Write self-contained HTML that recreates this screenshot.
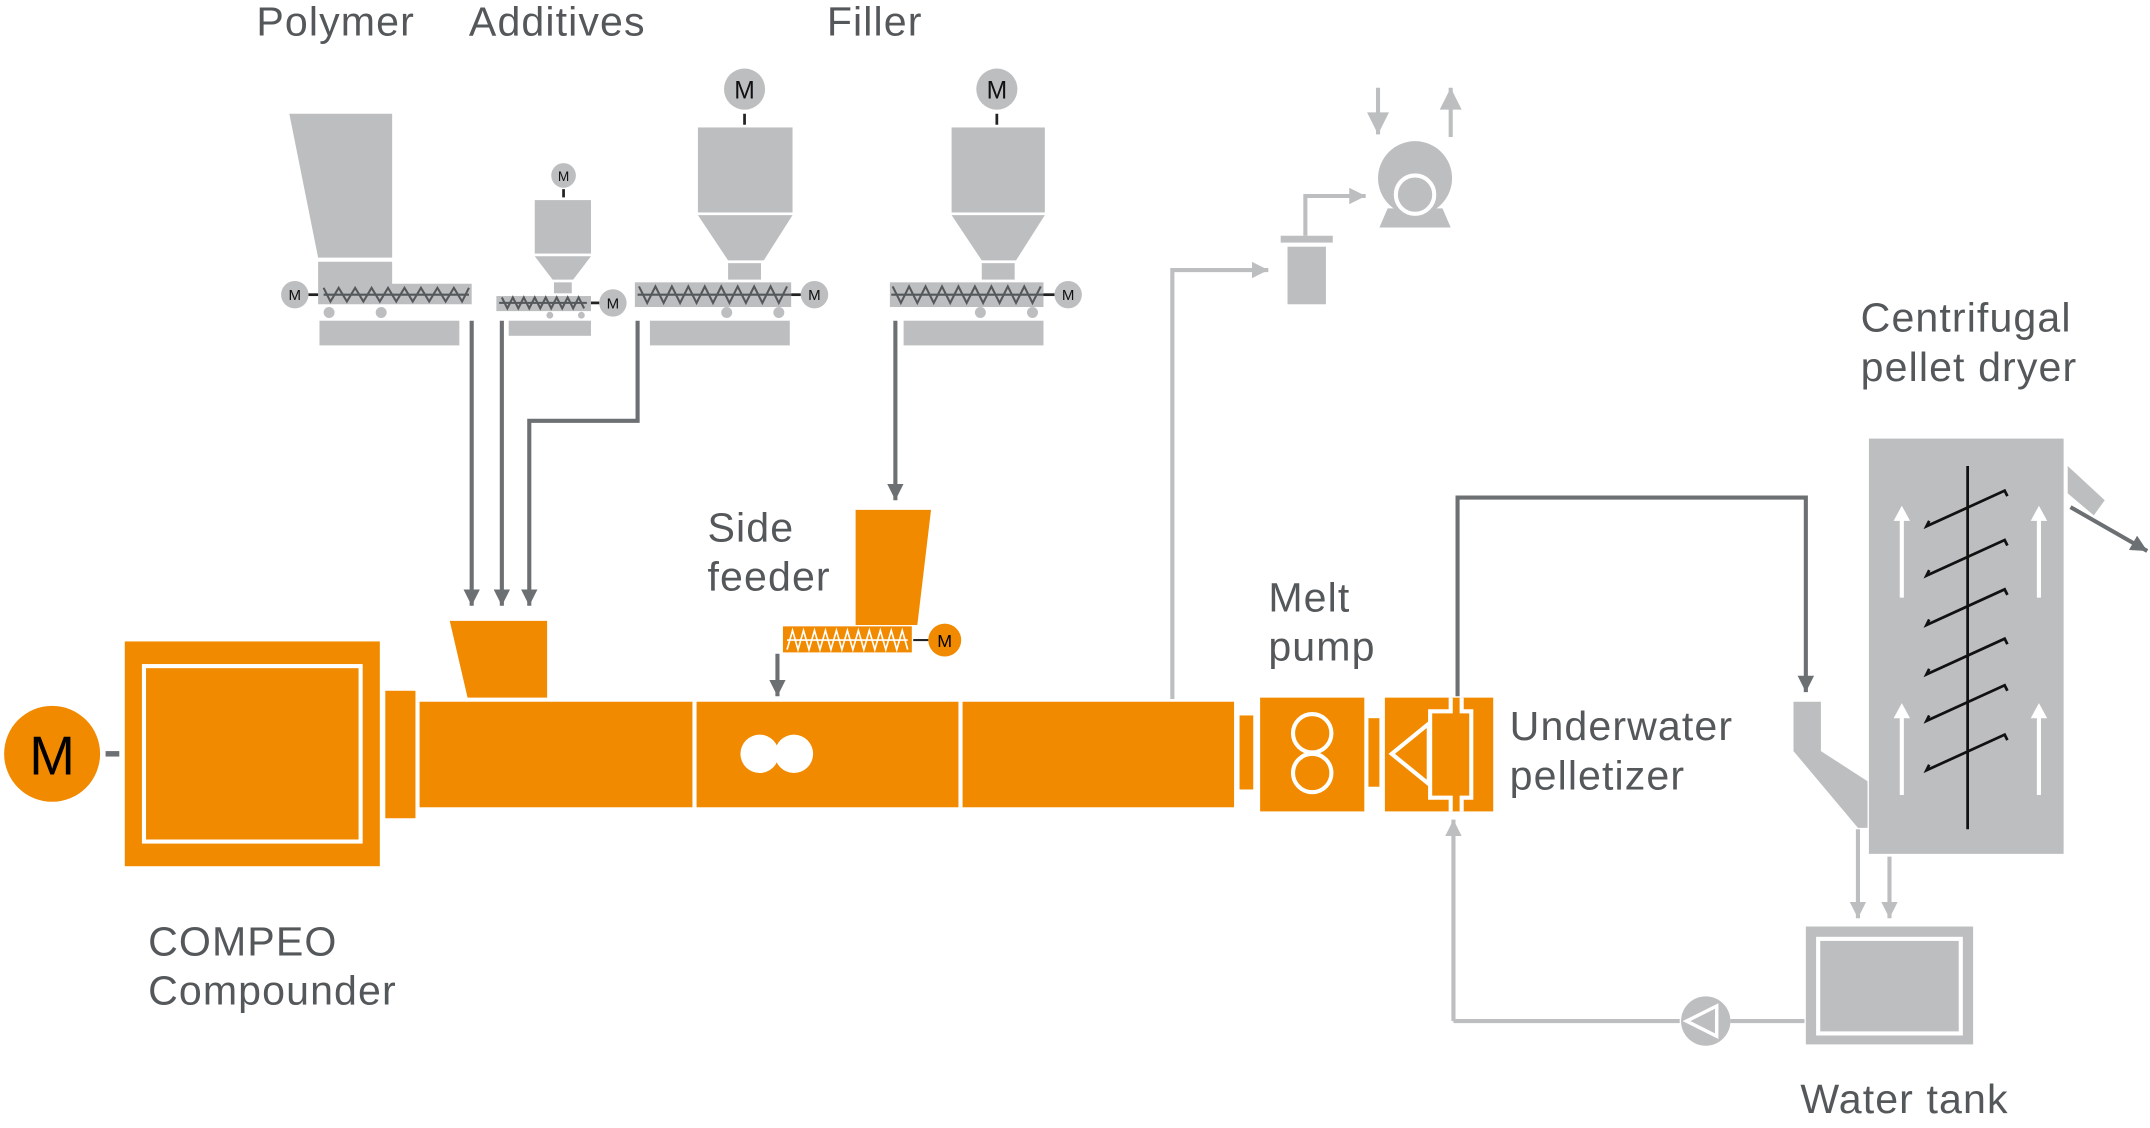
<!DOCTYPE html>
<html><head><meta charset="utf-8"><style>
html,body{margin:0;padding:0;background:#fff;}
svg{display:block;}
text{font-family:"Liberation Sans",sans-serif;fill:#55585b;font-size:30px;letter-spacing:0.8px;}
</style></head><body>
<svg width="2150" height="1128" viewBox="0 0 1568 823" preserveAspectRatio="none" xmlns="http://www.w3.org/2000/svg">
<defs>
<marker id="ad2" viewBox="0 0 10 10" refX="10" refY="5" markerWidth="12" markerHeight="12" orient="auto" markerUnits="userSpaceOnUse"><path d="M0,0 L10,5 L0,10z" fill="#6d7073"/></marker>
<marker id="al2" viewBox="0 0 10 10" refX="10" refY="5" markerWidth="12" markerHeight="12" orient="auto" markerUnits="userSpaceOnUse"><path d="M0,0 L10,5 L0,10z" fill="#bcbec0"/></marker>
<marker id="al3" viewBox="0 0 10 10" refX="10" refY="5" markerWidth="18" markerHeight="16" orient="auto" markerUnits="userSpaceOnUse"><path d="M0,0 L10,5 L0,10z" fill="#bcbec0"/></marker>
</defs>
<!-- labels -->
<text x="187" y="26">Polymer</text>
<text x="342" y="26">Additives</text>
<text x="603" y="26">Filler</text>
<text x="516" y="395">Side</text><text x="516" y="431">feeder</text>
<text x="925" y="446">Melt</text><text x="925" y="482">pump</text>
<text x="1101" y="540">Underwater</text><text x="1101" y="576">pelletizer</text>
<text x="1357" y="242">Centrifugal</text><text x="1357" y="278">pellet dryer</text>
<text x="108" y="697">COMPEO</text><text x="108" y="733">Compounder</text>
<text x="1313" y="812">Water tank</text>

<!-- feeders (gray) -->
<g fill="#bcbec0">
<polygon points="211,83 286,83 286,188 232,188"/>
<polygon points="232,191 286,191 286,207 344,207 344,222 232,222"/>
<circle cx="215" cy="215" r="10"/>
<circle cx="240" cy="228" r="4"/><circle cx="278" cy="228" r="4"/>
<rect x="233" y="234" width="102" height="18"/>

<circle cx="411" cy="128" r="9"/>
<rect x="390" y="146" width="41" height="39"/>
<polygon points="390,187 431,187 418,204 403,204"/>
<rect x="404" y="206" width="13" height="8"/>
<rect x="362" y="216" width="69" height="11"/>
<circle cx="447" cy="221" r="10"/>
<circle cx="401" cy="230" r="2.5"/><circle cx="424" cy="230" r="2.5"/>
<rect x="371" y="234" width="60" height="11"/>

<circle cx="543" cy="65" r="15"/>
<rect x="509" y="93" width="69" height="62"/>
<polygon points="509,157 578,157 557,190 531,190"/>
<rect x="531" y="192" width="24" height="12"/>
<rect x="463" y="206" width="114" height="18"/>
<circle cx="594" cy="215" r="10"/>
<circle cx="530" cy="228" r="4"/><circle cx="568" cy="228" r="4"/>
<rect x="474" y="234" width="102" height="18"/>

<circle cx="727" cy="65" r="15"/>
<rect x="694" y="93" width="68" height="62"/>
<polygon points="694,157 762,157 741,190 716,190"/>
<rect x="716" y="192" width="24" height="12"/>
<rect x="649" y="206" width="112" height="18"/>
<circle cx="779" cy="215" r="10"/>
<circle cx="715" cy="228" r="4"/><circle cx="753" cy="228" r="4"/>
<rect x="659" y="234" width="102" height="18"/>
</g>
<g stroke="#222" stroke-width="2" fill="none">
<line x1="543" y1="83" x2="543" y2="91"/><line x1="727" y1="83" x2="727" y2="91"/><line x1="411" y1="138" x2="411" y2="144"/>
<line x1="225" y1="215" x2="232" y2="215"/><line x1="431" y1="221" x2="437" y2="221"/>
<line x1="577" y1="215" x2="584" y2="215"/><line x1="761" y1="215" x2="769" y2="215"/>
</g>
<g stroke="#55585b" stroke-width="1.5" fill="none">
<line x1="236" y1="215" x2="342" y2="215"/>
<polyline points="236,210 241,220 247,210 253,220 259,210 265,220 271,210 277,220 283,210 289,220 295,210 301,220 307,210 313,220 319,210 325,220 331,210 337,220 342,210"/>
<line x1="364" y1="221" x2="428" y2="221"/>
<polyline points="366,217 370,225 374,217 378,225 382,217 386,225 390,217 394,225 398,217 402,225 406,217 410,225 414,217 418,225 422,217 426,225"/>
<line x1="465" y1="215" x2="577" y2="215"/>
<polyline points="466,209 472,221 478,209 484,221 490,209 496,221 502,209 508,221 514,209 520,221 526,209 532,221 538,209 544,221 550,209 556,221 562,209 568,221 574,209"/>
<line x1="650" y1="215" x2="761" y2="215"/>
<polyline points="651,209 657,221 663,209 669,221 675,209 681,221 687,209 693,221 699,209 705,221 711,209 717,221 723,209 729,221 735,209 741,221 747,209 753,221 759,209"/>
</g>
<g text-anchor="middle">
<text x="215" y="219" style="font-size:11px;fill:#111;letter-spacing:0">M</text>
<text x="411" y="132" style="font-size:10px;fill:#111;letter-spacing:0">M</text>
<text x="447" y="225" style="font-size:11px;fill:#111;letter-spacing:0">M</text>
<text x="594" y="219" style="font-size:11px;fill:#111;letter-spacing:0">M</text>
<text x="779" y="219" style="font-size:11px;fill:#111;letter-spacing:0">M</text>
<text x="543" y="72" style="font-size:18px;fill:#111;letter-spacing:0">M</text>
<text x="727" y="72" style="font-size:18px;fill:#111;letter-spacing:0">M</text>
</g>

<!-- dark feed lines -->
<g stroke="#6d7073" stroke-width="3" fill="none">
<line x1="344" y1="234" x2="344" y2="442" marker-end="url(#ad2)"/>
<line x1="366" y1="234" x2="366" y2="442" marker-end="url(#ad2)"/>
<polyline points="465,234 465,307 386,307 386,442" marker-end="url(#ad2)"/>
<line x1="653" y1="234" x2="653" y2="365" marker-end="url(#ad2)"/>
<line x1="567" y1="477" x2="567" y2="508" marker-end="url(#ad2)"/>
<polyline points="1063,508 1063,363 1317,363 1317,505" marker-end="url(#ad2)"/>
<line x1="1510" y1="370" x2="1566" y2="402" marker-end="url(#ad2)"/>
</g>

<!-- vent / vacuum -->
<g stroke="#bcbec0" stroke-width="3" fill="none">
<polyline points="855,510 855,197 925,197" marker-end="url(#al2)"/>
<polyline points="952,172 952,143 996,143" marker-end="url(#al2)"/>
<line x1="1005" y1="64" x2="1005" y2="98" marker-end="url(#al3)"/>
<line x1="1058" y1="100" x2="1058" y2="64" marker-end="url(#al3)"/>
<line x1="1060" y1="745" x2="1060" y2="598" marker-end="url(#al2)"/>
<line x1="1060" y1="745" x2="1225" y2="745"/>
<line x1="1262" y1="745" x2="1316" y2="745"/>
<line x1="1355" y1="605" x2="1355" y2="670" marker-end="url(#al2)"/>
<line x1="1378" y1="625" x2="1378" y2="670" marker-end="url(#al2)"/>
</g>
<g fill="#bcbec0">
<rect x="934" y="172" width="38" height="5"/>
<rect x="939" y="180" width="28" height="42"/>
<circle cx="1032" cy="130" r="27"/>
<polygon points="1012,152 1052,152 1058,166 1006,166"/>
<circle cx="1244" cy="745" r="18"/>
<rect x="1317" y="676" width="122" height="86"/>
<rect x="1363" y="320" width="142" height="303"/>
<polygon points="1308,512 1328,512 1328,548 1362,570 1362,604 1355,604 1308,548"/>
<polygon points="1508,340 1535,365 1527,376 1508,360"/>
</g>
<circle cx="1032" cy="142" r="14" fill="none" stroke="#fff" stroke-width="3"/>
<polygon points="1230,745 1252,734 1252,756" fill="none" stroke="#fff" stroke-width="2.5"/>
<rect x="1326" y="685" width="104" height="69" fill="none" stroke="#fff" stroke-width="3"/>
<!-- dryer internals -->
<g stroke="#fff" stroke-width="3" fill="#fff">
<line x1="1387" y1="436" x2="1387" y2="378"/><line x1="1487" y1="436" x2="1487" y2="378"/>
<line x1="1387" y1="580" x2="1387" y2="522"/><line x1="1487" y1="580" x2="1487" y2="522"/>
</g>
<g fill="#fff">
<polygon points="1381,380 1393,380 1387,369"/><polygon points="1481,380 1493,380 1487,369"/>
<polygon points="1381,524 1393,524 1387,513"/><polygon points="1481,524 1493,524 1487,513"/>
</g>
<g stroke="#111" stroke-width="2" fill="none">
<line x1="1435" y1="340" x2="1435" y2="605"/>
<polyline points="1407,380 1405,384 1462,358 1464,362"/>
<polyline points="1407,416 1405,420 1462,394 1464,398"/>
<polyline points="1407,452 1405,456 1462,430 1464,434"/>
<polyline points="1407,488 1405,492 1462,466 1464,470"/>
<polyline points="1407,522 1405,526 1462,500 1464,504"/>
<polyline points="1407,558 1405,562 1462,536 1464,540"/>
</g>

<!-- orange machine -->
<g fill="#f28a00">
<circle cx="38" cy="550" r="35"/>
<rect x="91" y="468" width="186" height="164"/>
<rect x="281" y="504" width="22" height="93"/>
<rect x="306" y="512" width="594" height="77"/>
<polygon points="328,453 399,453 399,509 341,509"/>
<polygon points="624,372 679,372 669,456 624,456"/>
<rect x="571" y="457" width="94" height="19"/>
<circle cx="689" cy="467" r="12"/>
<rect x="904" y="522" width="10" height="54"/>
<rect x="919" y="509" width="76" height="83"/>
<rect x="998" y="524" width="8" height="50"/>
<rect x="1010" y="509" width="79" height="83"/>
</g>
<rect x="77" y="548" width="10" height="4" fill="#6d7073"/>
<line x1="666" y1="467" x2="677" y2="467" stroke="#222" stroke-width="1.5"/>
<text x="38" y="565" text-anchor="middle" style="font-size:40px;fill:#000;letter-spacing:0">M</text>
<text x="689" y="472" text-anchor="middle" style="font-size:13px;fill:#000;letter-spacing:0">M</text>
<rect x="105" y="486" width="158" height="128" fill="none" stroke="#fff" stroke-width="3"/>
<rect x="505" y="510" width="3" height="81" fill="#fff"/>
<rect x="699" y="510" width="3" height="81" fill="#fff"/>
<circle cx="554" cy="550" r="14" fill="#fff"/><circle cx="579" cy="550" r="14" fill="#fff"/>
<line x1="574" y1="467" x2="662" y2="467" stroke="#fff" stroke-width="1.2"/>
<polyline points="574,474 578,460 582,474 586,460 590,474 594,460 598,474 602,460 606,474 610,460 614,474 618,460 622,474 626,460 630,474 634,460 638,474 642,460 646,474 650,460 654,474 658,460 662,474" fill="none" stroke="#fff" stroke-width="1.2"/>
<circle cx="957" cy="535" r="14" fill="none" stroke="#fff" stroke-width="3"/>
<circle cx="957" cy="564" r="14" fill="none" stroke="#fff" stroke-width="3"/>
<polygon points="1015,550 1042,528 1042,572" fill="none" stroke="#fff" stroke-width="3"/>
<polyline points="1058,509 1058,519 1043,519 1043,582 1058,582 1058,592" fill="none" stroke="#fff" stroke-width="3"/>
<polyline points="1066,509 1066,519 1073,519 1073,582 1066,582 1066,592" fill="none" stroke="#fff" stroke-width="3"/>
</svg>
</body></html>
